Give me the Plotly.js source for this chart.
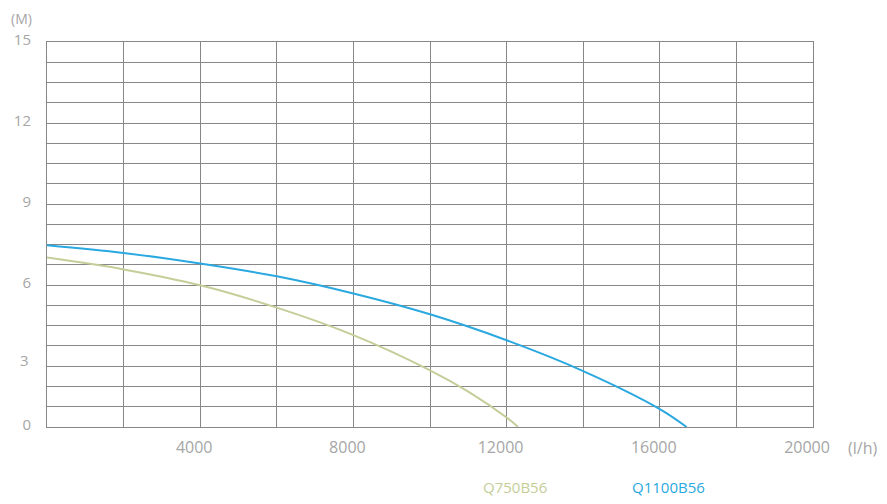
<!DOCTYPE html>
<html>
<head>
<meta charset="utf-8">
<script src="https://cdn.plot.ly/plotly-3.0.1.min.js"></script>
<style>html,body{margin:0;padding:0;background:#fff;}#chart{width:887px;height:504px;}</style>
</head>
<body>
<div id="chart"></div>
<script>
// Flow (l/h) and head (M)
var flowQ750 = [0, 2000, 4000, 6000, 8000, 10000, 11000, 12000, 12300];
var headQ750 = [6.60, 6.14, 5.52, 4.65, 3.58, 2.21, 1.38, 0.37, 0];
var flowQ1100 = [0, 2000, 4000, 6000, 8000, 10000, 12000, 14000, 16000, 16700];
var headQ1100 = [7.08, 6.78, 6.37, 5.87, 5.20, 4.39, 3.38, 2.18, 0.70, 0];
var seriesNames = ['Q750B56', 'Q1100B56'];
var xTickVals = [4000, 8000, 12000, 16000, 20000];
var xTickText = ['4000', '8000', '12000', '16000', '20000'];
var yGridCount = 19;               // horizontal grid rows
var yLabelRows = {0: '0', 7: '6', 11: '9', 15: '12', 19: '15'};
var yLabel3Val = 2.6;
var yLabel3Text = '3';

var colGreen = '#c4ce98';
var colBlue = '#2aa8e0';
var gridCol = '#878787';
var tickCol = '#a6a6a6';

var yGridVals = [], yGridText = [];
for (var k = 0; k <= yGridCount; k++) {
  yGridVals.push(15 * k / yGridCount);
  yGridText.push(yLabelRows[k] !== undefined ? yLabelRows[k] : '');
}

var traces = [
  {x: flowQ750, y: headQ750, name: seriesNames[0], type: 'scatter', mode: 'lines',
   line: {color: colGreen, width: 2, shape: 'spline', smoothing: 1}},
  {x: flowQ1100, y: headQ1100, name: seriesNames[1], type: 'scatter', mode: 'lines',
   line: {color: colBlue, width: 2, shape: 'spline', smoothing: 1}}
];

var layout = {
  width: 887, height: 504,
  margin: {l: 47, r: 74, t: 42, b: 77},
  paper_bgcolor: '#fff', plot_bgcolor: '#fff',
  showlegend: false,
  font: {family: 'Open Sans, Liberation Sans, sans-serif', color: tickCol},
  xaxis: {
    range: [0, 20000], tickmode: 'array', tickvals: xTickVals, ticktext: xTickText,
    showgrid: true, gridcolor: gridCol, gridwidth: 1,
    minor: {dtick: 2000, tick0: 0, showgrid: true, gridcolor: gridCol, gridwidth: 1},
    showline: true, mirror: true, linecolor: gridCol, linewidth: 1,
    zeroline: false, ticks: '', ticklabelshift: -6, ticklabelstandoff: 6,
    tickfont: {size: 16, color: tickCol}, fixedrange: true
  },
  yaxis: {
    range: [0, 15], tickmode: 'array', tickvals: yGridVals, ticktext: yGridText,
    showgrid: true, gridcolor: gridCol, gridwidth: 1,
    showline: true, mirror: true, linecolor: gridCol, linewidth: 1,
    zeroline: false, ticks: '', ticklabelstandoff: 12, ticklabelshift: -2,
    tickfont: {size: 15, color: tickCol}, fixedrange: true
  },
  annotations: [
    {text: yLabel3Text, xref: 'paper', yref: 'y', x: 0, y: yLabel3Val, xshift: -16, xanchor: 'right', yanchor: 'middle',
     showarrow: false, font: {size: 15, color: tickCol}},
    {text: '(M)', xref: 'paper', yref: 'paper', x: -0.033, y: 1.0, yshift: 24, xanchor: 'center', yanchor: 'middle',
     showarrow: false, font: {size: 14, color: tickCol}},
    {text: '(l/h)', xref: 'paper', yref: 'paper', x: 1.0, y: 0, xshift: 49, yshift: -21, xanchor: 'center', yanchor: 'middle',
     showarrow: false, font: {size: 16, color: tickCol}},
    {text: seriesNames[0], xref: 'paper', yref: 'paper', x: 0.611, y: 0, yshift: -60, xanchor: 'center', yanchor: 'middle',
     showarrow: false, font: {size: 15, color: colGreen}},
    {text: seriesNames[1], xref: 'paper', yref: 'paper', x: 0.811, y: 0, yshift: -60, xanchor: 'center', yanchor: 'middle',
     showarrow: false, font: {size: 15, color: colBlue}}
  ]
};

Plotly.newPlot('chart', traces, layout, {displayModeBar: false, staticPlot: true});
</script>
</body>
</html>
